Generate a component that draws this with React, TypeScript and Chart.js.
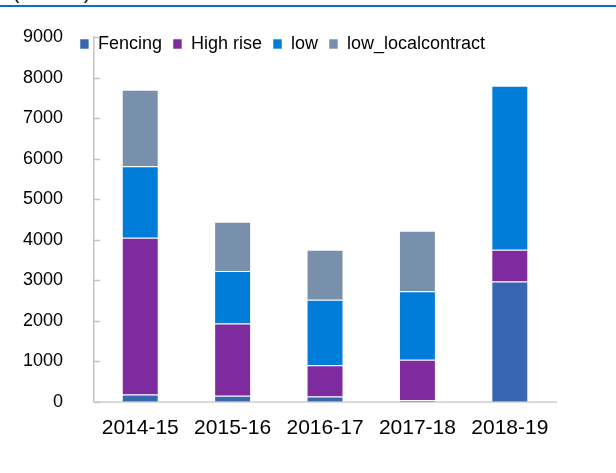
import React, { useEffect, useRef } from "react";
import { Chart, registerables } from "chart.js";

Chart.register(...registerables);

const categories = ["2014-15", "2015-16", "2016-17", "2017-18", "2018-19"];
const fencing = [180, 150, 130, 40, 2970];
const highRise = [3870, 1780, 770, 1000, 780];
const low = [1760, 1300, 1620, 1690, 4050];
const lowLocal = [1890, 1210, 1230, 1490, 0];
const yTicks = [0, 1000, 2000, 3000, 4000, 5000, 6000, 7000, 8000, 9000];

const FONT = "'Liberation Sans', Arial, sans-serif";

const insideTicks = {
  id: "insideTicks",
  afterDatasetsDraw(chart: any) {
    const y = chart.scales.y;
    const ctx = chart.ctx;
    const left = chart.chartArea.left;
    ctx.save();
    ctx.strokeStyle = "#c4c4c4";
    ctx.lineWidth = 1.5;
    yTicks.forEach((v) => {
      const py = Math.round(y.getPixelForValue(v)) + 0.5;
      ctx.beginPath();
      ctx.moveTo(left, py);
      ctx.lineTo(left + 6, py);
      ctx.stroke();
    });
    ctx.restore();
  },
};

// the legend overlaps the plot area in the reference: give it a fixed reserved height, then shift it
const LEGEND_RESERVED = 37;
const moveLegend = {
  id: "moveLegend",
  beforeLayout(chart: any) {
    const lg = chart.legend;
    if (lg && !lg._patchedFit) {
      const orig = lg.fit;
      lg.fit = function () {
        orig.call(this);
        this.height = LEGEND_RESERVED;
      };
      lg._patchedFit = true;
    }
  },
  afterLayout(chart: any) {
    const lg = chart.legend;
    if (!lg) return;
    const dy = 24;
    const dx = -7;
    lg.top += dy;
    lg.bottom += dy;
    lg.left += dx;
    lg.right += dx;
  },
};

export default function App() {
  const ref = useRef<HTMLCanvasElement | null>(null);
  useEffect(() => {
    if (!ref.current) return;
    const border = "rgba(255,255,255,0.55)";
    const chart = new Chart(ref.current, {
      type: "bar",
      data: {
        labels: categories,
        datasets: [
          { label: "Fencing", data: fencing, backgroundColor: "#3667b0", borderColor: border, borderWidth: 1 },
          { label: "High rise", data: highRise, backgroundColor: "#7f2ba0", borderColor: border, borderWidth: 1 },
          { label: "low", data: low, backgroundColor: "#007dd8", borderColor: border, borderWidth: 1 },
          { label: "low_localcontract", data: lowLocal, backgroundColor: "#7890ac", borderColor: border, borderWidth: 1 },
        ],
      },
      options: {
        animation: false,
        responsive: false,
        maintainAspectRatio: false,
        layout: { padding: { left: 23, right: 60, top: 0, bottom: 18 } },
        datasets: { bar: { categoryPercentage: 0.8, barPercentage: 0.5 } },
        plugins: {
          tooltip: { enabled: false },
          legend: {
            display: true,
            position: "top",
            labels: {
              boxWidth: 9,
              boxHeight: 10,
              padding: 11,
              color: "#000",
              font: { family: FONT, size: 18 },
            },
          },
        },
        scales: {
          x: {
            stacked: true,
            grid: { display: false, drawTicks: false },
            border: { display: true, color: "#d9d9d9", width: 2 },
            ticks: { color: "#000", font: { family: FONT, size: 21 }, padding: 14, maxRotation: 0 },
          },
          y: {
            stacked: true,
            min: 0,
            max: 9000,
            grid: { display: false, drawTicks: false },
            border: { display: true, color: "#c4c4c4", width: 1.5 },
            afterFit: (s: any) => {
              s.width -= 31;
              s.paddingTop = 11;
              s.paddingBottom = 11;
            },
            ticks: {
              stepSize: 1000,
              color: "#000",
              font: { family: FONT, size: 18 },
              padding: 31,
              callback: (v: any) => String(v),
            },
          },
        },
      },
      plugins: [insideTicks, moveLegend],
    });
    return () => chart.destroy();
  }, []);

  return (
    <div style={{ position: "absolute", left: 0, top: 0, width: 616, height: 473, overflow: "hidden", background: "#fff" }}>
      <span
        style={{
          position: "absolute",
          left: 13,
          top: -17,
          fontFamily: FONT,
          fontSize: 19,
          lineHeight: "19px",
          color: "#000",
          whiteSpace: "nowrap",
        }}
      >
        (number)
      </span>
      <div style={{ position: "absolute", left: 0, top: 5, width: 616, height: 1.5, background: "#0a6fc8" }} />
      <canvas ref={ref} width={616} height={473} style={{ position: "absolute", left: 0, top: 0, width: 616, height: 473 }} />
    </div>
  );
}
